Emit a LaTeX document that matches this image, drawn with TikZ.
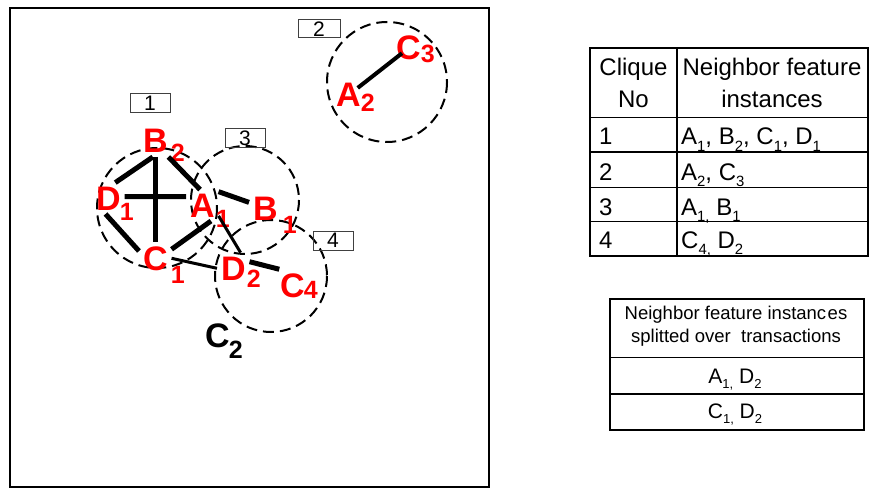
\documentclass[tikz,border=0pt]{standalone}
\usepackage{fontspec}
\setmainfont{Liberation Sans}
\newcommand{\lo}[1]{\raisebox{-0.27em}{\scalebox{0.62}{#1}}}
\begin{document}
\begin{tikzpicture}[x=1pt,y=-1pt,
  inst/.style={font=\fontsize{34}{34}\selectfont\bfseries, text=red, inner sep=0pt, outer sep=4pt, anchor=base west},
  idx/.style={font=\fontsize{25}{25}\selectfont\bfseries, text=red, inner sep=0pt, anchor=base west},
  link/.style={line width=5pt},
  midlink/.style={line width=4pt},
  thinlink/.style={line width=3pt},
  nbrange/.style={draw, dash pattern=on 11pt off 6pt, line width=2pt},
  tag/.style={draw=black!75, line width=1pt, minimum width=40pt, minimum height=19pt, inner sep=0pt, font=\fontsize{21}{21}\selectfont},
  cell/.style={font=\fontsize{24}{24}\selectfont, inner sep=0pt},
  smallcell/.style={font=\fontsize{18.5}{18.5}\selectfont, inner sep=0pt},
  rowcell/.style={font=\fontsize{21}{21}\selectfont, inner sep=0pt},
  grid/.style={line width=1.3pt}
]
\useasboundingbox (0,0) rectangle (869,489);

% spatial frame
\draw[line width=2pt] (10,8) rectangle (489,487);

% neighbourhood ranges of the cliques
\draw[nbrange] (157,208) circle[radius=60];
\draw[nbrange] (387,82) circle[radius=60];
\draw[nbrange] (245,200) circle[radius=54];
\draw[nbrange] (271,276) circle[radius=56];

% clique numbers
\node[tag] (t1) at (150,103) {1};
\node[tag, minimum width=42pt, minimum height=18pt] (t2) at (319,29) {2};
\node[tag] (t3) at (245,138) {3};
\node[tag] (t4) at (333,240.5) {4};

% feature instances
\node[inst] (a2) at (332,107) {A};
\node[inst] (c3) at (392,60) {C};
\node[inst] (b2) at (139,153) {B};
\node[inst] (d1) at (92,210) {D};
\node[inst] (a1) at (186,217) {A};
\node[inst] (c1) at (139,270) {C};
\node[inst] (b1) at (249,220) {B};
\node[inst] (d2) at (217,280) {D};
\node[inst] (c4) at (276,297) {C};
\node[inst, text=black] (c2) at (201,347) {C};

\node[idx] (a2i) at ([xshift=-4pt,yshift=-5pt]a2.base east) {2};
\node[idx] (c3i) at ([xshift=-4pt,yshift=-3pt]c3.base east) {3};
\node[idx] (b2i) at ([xshift=-1pt,yshift=-9pt]b2.base east) {2};
\node[idx] (d1i) at ([xshift=-5pt,yshift=-10pt]d1.base east) {1};
\node[idx] (a1i) at ([xshift=-3pt,yshift=-10pt]a1.base east) {1};
\node[idx] (c1i) at ([xshift=-1pt,yshift=-13pt]c1.base east) {1};
\node[idx] (b1i) at ([xshift=1pt,yshift=-13pt]b1.base east) {1};
\node[idx] (d2i) at ([xshift=-3pt,yshift=-7pt]d2.base east) {2};
\node[idx] (c4i) at ([xshift=-5pt,yshift=-1pt]c4.base east) {4};
\node[idx, text=black] (c2i) at ([xshift=-5pt,yshift=-11pt]c2.base east) {2};

% neighbour relations
\draw[link] (d1.66) -- (b2.261);
\draw[link] (b2.south) -- (c1.north);
\draw[link] (d1.6) -- (a1.152);
\draw[link] (b2.-50) -- (a1.98);
\draw[link] (d1.-100) -- (c1.156);
\draw[link] (c1.29) -- (a1.-61);
\draw[link] (a1.40) -- (b1.160);
\draw[thinlink] (a1.-33) -- (d2.65);
\draw[thinlink] (c1.0) -- (d2.180);
\draw[link] (d2.22) -- (c4.129);
\draw[midlink, shorten <=12pt, shorten >=8pt] (a2.center) -- (c3.center);

% clique table
\draw[grid] (590,48) rectangle (868,256);
\draw[grid] (677,48) -- (677,256);
\foreach \yy in {117.5,152,187.5,221.5} \draw[grid] (590,\yy) -- (868,\yy);
\node[cell, anchor=base] (h1a) at (633.5,76) {Clique};
\node[cell, anchor=base] (h1b) at (633.5,108) {No};
\node[cell, anchor=base] (h2a) at (772,76) {Neighbor feature};
\node[cell, anchor=base] (h2b) at (772,108) {instances};
\node[cell, anchor=base west] (n1) at (599,145) {1};
\node[cell, anchor=base west] (n2) at (599,180) {2};
\node[cell, anchor=base west] (n3) at (599,215) {3};
\node[cell, anchor=base west] (n4) at (599,248) {4};
\node[cell, anchor=base west] (r1) at (681,145) {A\lo{1}, B\lo{2}, C\lo{1}, D\lo{1}};
\node[cell, anchor=base west] (r2) at (681,180) {A\lo{2}, C\lo{3}};
\node[cell, anchor=base west] (r3) at (681,215) {A\lo{1,} B\lo{1}};
\node[cell, anchor=base west] (r4) at (681,248) {C\lo{4,} D\lo{2}};

% split instances table
\draw[grid] (610,299) rectangle (864,430);
\draw[grid] (610,357.5) -- (864,357.5);
\draw[grid] (610,394) -- (864,394);
\node[smallcell, anchor=base] (s1) at (736,319) {Neighbor feature instanc\kern1.5pt es};
\node[smallcell, anchor=base] (s2) at (736,342) {splitted over\ \ transactions};
\node[rowcell, anchor=base] (p1) at (735,383) {A\lo{1,} D\lo{2}};
\node[rowcell, anchor=base] (p2) at (735,418) {C\lo{1,} D\lo{2}};
\end{tikzpicture}
\end{document}
